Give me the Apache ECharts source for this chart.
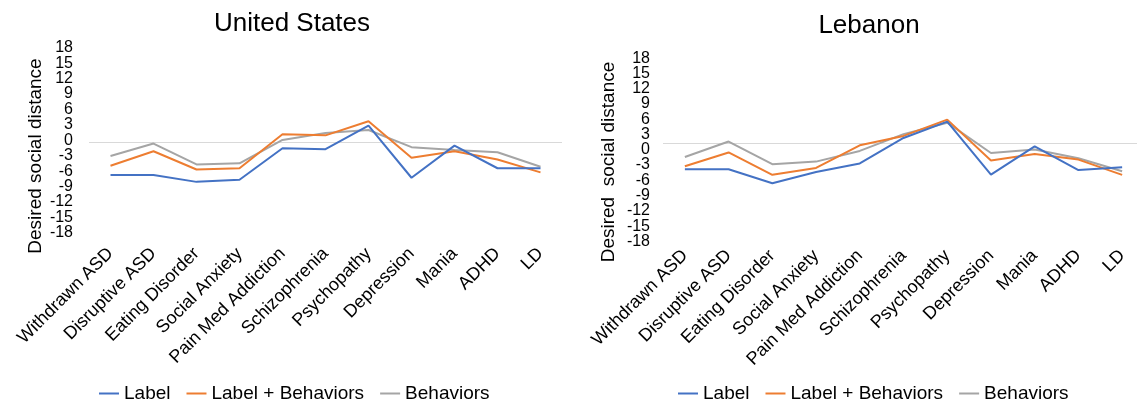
<!DOCTYPE html>
<html>
<head>
<meta charset="utf-8">
<script src="https://cdn.jsdelivr.net/npm/echarts@6/dist/echarts.min.js"></script>
<style>
html,body{margin:0;padding:0;background:#fff;}
#chart{width:1137px;height:405px;}
</style>
</head>
<body>
<div id="chart"></div>
<script>
// ---- data ----
const categories = ['Withdrawn ASD','Disruptive ASD','Eating Disorder','Social Anxiety','Pain Med Addiction','Schizophrenia','Psychopathy','Depression','Mania','ADHD','LD'];
const seriesNames = ['Label','Label + Behaviors','Behaviors'];
const yTicks = { min: -18, max: 18, interval: 3 };

const usLabel      = [-6.35,-6.35,-7.7,-7.3,-1.15,-1.35,3.25,-6.9,-0.65,-5.05,-5.05];
const usLabelBeh   = [-4.55,-1.75,-5.3,-5.05,1.55,1.35,4.1,-3.0,-1.75,-3.35,-5.85];
const usBehaviors  = [-2.65,-0.25,-4.3,-4.1,0.45,1.8,2.4,-0.95,-1.5,-1.95,-4.75];

const lbLabel      = [-5.1,-5.1,-7.85,-5.65,-3.95,1.05,4.25,-6.15,-0.6,-5.25,-4.7];
const lbLabelBeh   = [-4.5,-1.8,-6.2,-4.85,-0.4,1.45,4.65,-3.4,-2.1,-3.2,-6.2];
const lbBehaviors  = [-2.7,0.35,-4.1,-3.6,-1.5,1.8,4.05,-1.9,-1.2,-2.95,-5.5];

// ---- styling ----
const FONT = "'Liberation Sans', Arial, Helvetica, sans-serif";
const colors = ['#4472C4','#ED7D31','#A5A5A5'];

const chart = echarts.init(document.getElementById('chart'), null, {renderer:'canvas'});

function xAxisFor(gi, margin){
  return {
    type:'category', gridIndex: gi, data: categories, boundaryGap: true,
    axisLine:{show:false}, axisTick:{show:false}, splitLine:{show:false},
    axisLabel:{rotate:45, interval:0, fontSize:18, color:'#000', fontFamily:FONT, margin: margin}
  };
}
// Two value axes per grid share the same scale: one carries the end labels (±18),
// the other the inner ones, so that crowded labels are not dropped.
function yAxisFor(gi, margin, vAlign, lh, ends){
  return {
    type:'value', gridIndex: gi, min: yTicks.min, max: yTicks.max, interval: yTicks.interval,
    position:'left', offset:0,
    axisLine:{show:false}, axisTick:{show:false}, splitLine:{show:false},
    axisLabel:{fontSize:16, color:'#000', fontFamily:FONT, margin: margin,
      verticalAlign: vAlign, lineHeight: lh,
      showMinLabel: ends, showMaxLabel: ends, hideOverlap:false,
      formatter: ends ? (v => (v === yTicks.min || v === yTicks.max) ? String(v) : '') : (v => String(v))}
  };
}
function lineSeries(name, data, idx, gi){
  const s = {
    name, type:'line', data, xAxisIndex: gi, yAxisIndex: gi * 2,
    symbol:'none', showSymbol:false, smooth:false,
    lineStyle:{color:colors[idx], width:2}, itemStyle:{color:colors[idx]},
    z: 3 + (2-idx), animation:false
  };
  if (idx === 0) {
    s.markLine = {
      silent:true, symbol:['none','none'], label:{show:false},
      lineStyle:{color:'#D9D9D9', width:1, type:'solid'},
      data:[{yAxis:0}], animation:false, z:1
    };
  }
  return s;
}
function legendFor(left){
  return {data:seriesNames, left:left, top:384, orient:'horizontal', icon:'rect',
    itemWidth:20, itemHeight:2, itemGap:16,
    textStyle:{fontSize:19, color:'#000', fontFamily:FONT}, padding:0,
    selectedMode:false};
}

const option = {
  backgroundColor:'#fff',
  animation:false,
  textStyle:{fontFamily:FONT},
  grid:[
    {left:89, top:49.8, width:473, height:185, containLabel:false, outerBoundsMode:'none'},
    {left:663, top:51.7, width:481, height:183.2, containLabel:false, outerBoundsMode:'none'}
  ],
  xAxis:[ xAxisFor(0,16), xAxisFor(1,18) ],
  yAxis:[
    yAxisFor(0,16,'bottom',4,true), yAxisFor(0,16,'bottom',4,false),
    yAxisFor(1,13,'top',13,true),   yAxisFor(1,13,'top',13,false)
  ],
  legend:[ legendFor(99), legendFor(678) ],
  graphic:[
    {type:'text', x:292, y:24, silent:true,
     style:{text:'United States', fontSize:26, fontFamily:FONT, fill:'#000', textAlign:'center', textVerticalAlign:'middle', verticalAlign:'middle'}},
    {type:'text', x:869, y:25.5, silent:true,
     style:{text:'Lebanon', fontSize:26, fontFamily:FONT, fill:'#000', textAlign:'center', textVerticalAlign:'middle', verticalAlign:'middle'}},
    {type:'text', x:36, y:156, rotation:Math.PI/2, silent:true,
     style:{text:'Desired social distance', fontSize:19, fontFamily:FONT, fill:'#000', textAlign:'center', textVerticalAlign:'middle', verticalAlign:'middle'}},
    {type:'text', x:609, y:162, rotation:Math.PI/2, silent:true,
     style:{text:'Desired  social distance', fontSize:19, fontFamily:FONT, fill:'#000', textAlign:'center', textVerticalAlign:'middle', verticalAlign:'middle'}}
  ],
  series:[
    lineSeries(seriesNames[0], usLabel, 0, 0),
    lineSeries(seriesNames[1], usLabelBeh, 1, 0),
    lineSeries(seriesNames[2], usBehaviors, 2, 0),
    lineSeries(seriesNames[0], lbLabel, 0, 1),
    lineSeries(seriesNames[1], lbLabelBeh, 1, 1),
    lineSeries(seriesNames[2], lbBehaviors, 2, 1)
  ]
};
chart.setOption(option);
</script>
</body>
</html>
